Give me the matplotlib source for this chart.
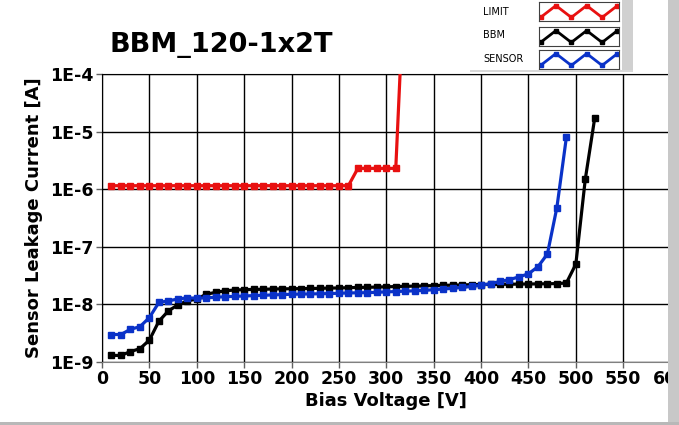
import numpy as np
import matplotlib
matplotlib.use("Agg")
import matplotlib.pyplot as plt
from matplotlib.patches import Rectangle

# ---- data ----
limit_v = [10, 20, 30, 40, 50, 60, 70, 80, 90, 100, 110, 120, 130, 140, 150, 160,
           170, 180, 190, 200, 210, 220, 230, 240, 250, 260, 270, 280, 290, 300, 310, 315]
limit_i = [1.15e-6] * 26 + [2.3e-6] * 5 + [1.5e-4]

bbm_v = list(range(10, 530, 10))
bbm_i = [1.3e-9, 1.3e-9, 1.52e-9, 1.7e-9, 2.4e-9, 5.1e-9, 7.7e-9, 9.8e-9, 1.15e-8, 1.24e-8,
         1.5e-8, 1.62e-8, 1.72e-8, 1.78e-8, 1.8e-8, 1.82e-8, 1.83e-8, 1.85e-8, 1.86e-8, 1.87e-8,
         1.88e-8, 1.89e-8, 1.9e-8, 1.92e-8, 1.93e-8, 1.95e-8, 1.97e-8, 1.98e-8, 2.0e-8, 2.02e-8,
         2.04e-8, 2.06e-8, 2.08e-8, 2.1e-8, 2.12e-8, 2.14e-8, 2.16e-8, 2.18e-8, 2.2e-8, 2.21e-8,
         2.22e-8, 2.23e-8, 2.24e-8, 2.25e-8, 2.26e-8, 2.27e-8, 2.28e-8, 2.3e-8, 2.35e-8, 5.0e-8,
         1.5e-6, 1.75e-5]

sensor_v = list(range(10, 500, 10))
sensor_i = [3.0e-9, 3.0e-9, 3.7e-9, 4.1e-9, 5.9e-9, 1.08e-8, 1.15e-8, 1.24e-8, 1.3e-8, 1.28e-8,
            1.3e-8, 1.33e-8, 1.36e-8, 1.38e-8, 1.4e-8, 1.42e-8, 1.44e-8, 1.46e-8, 1.48e-8, 1.5e-8,
            1.51e-8, 1.52e-8, 1.53e-8, 1.54e-8, 1.56e-8, 1.58e-8, 1.59e-8, 1.6e-8, 1.62e-8, 1.65e-8,
            1.67e-8, 1.7e-8, 1.72e-8, 1.75e-8, 1.8e-8, 1.85e-8, 1.9e-8, 1.97e-8, 2.05e-8, 2.15e-8,
            2.3e-8, 2.5e-8, 2.7e-8, 3.0e-8, 3.4e-8, 4.5e-8, 7.5e-8, 4.8e-7, 7.9e-6]

series_names = ["LIMIT", "BBM", "SENSOR"]
series_colors = ["#e81010", "#000000", "#0a32c8"]
x_ticks = list(range(0, 650, 50))
y_ticks = [1e-9, 1e-8, 1e-7, 1e-6, 1e-5, 1e-4]
y_ticklabels = ["1E-9", "1E-8", "1E-7", "1E-6", "1E-5", "1E-4"]
legend_zigzag = [0, 1, 0, 1, 0, 1]

W, H = 679, 425
fig = plt.figure(figsize=(W / 100, H / 100), dpi=100)
fig.patch.set_facecolor("white")

ax = fig.add_axes([102 / W, 1 - 362 / H, (670.6 - 102) / W, (362 - 74) / H])
for xs, ys, c in zip([limit_v, bbm_v, sensor_v], [limit_i, bbm_i, sensor_i], series_colors):
    ax.plot(xs, ys, color=c, lw=2.3, marker="s", ms=4.4, mec=c, mfc=c, zorder=3)

ax.set_yscale("log")
ax.set_xlim(0, 600)
ax.set_ylim(1e-9, 1e-4)
ax.set_xticks(x_ticks)
ax.set_yticks(y_ticks)
ax.set_yticklabels(y_ticklabels)
ax.yaxis.set_minor_locator(matplotlib.ticker.NullLocator())
ax.grid(True, color="black", lw=1.0)
ax.tick_params(axis="both", length=4, width=1, color="#606060", labelsize=12.5, pad=2)
for lab in ax.get_xticklabels() + ax.get_yticklabels():
    lab.set_fontweight("bold")
for s in ax.spines.values():
    s.set_color("black")
ax.spines["bottom"].set_color("#808080")
ax.set_xlabel("Bias Voltage [V]", fontsize=13, fontweight="bold", labelpad=3)
ax.set_ylabel("Sensor Leakage Current [A]", fontsize=13, fontweight="bold", labelpad=5)

fig.text(221 / W, 1 - 45 / H, "BBM_120-1x2T", fontsize=19.5, fontweight="bold",
         ha="center", va="center")

# legend panel
fig.patches.append(Rectangle((622 / W, 1 - 72 / H), 11 / W, 72 / H, transform=fig.transFigure,
                             facecolor="#d0d0d0", edgecolor="none", zorder=5))
fig.patches.append(Rectangle((470 / W, 1 - 72 / H), 163 / W, 2 / H, transform=fig.transFigure,
                             facecolor="#d8d8d8", edgecolor="none", zorder=5))
box_tops = [2, 27, 50]
label_y = [12, 35, 59]
for name, c, top, ly in zip(series_names, series_colors, box_tops, label_y):
    fig.text(483 / W, 1 - ly / H, name, fontsize=7, ha="left", va="center")
    lax = fig.add_axes([539 / W, 1 - (top + 19) / H, 80 / W, 19 / H])
    lax.plot(range(len(legend_zigzag)), legend_zigzag, color=c, lw=2, marker="s", ms=3.5)
    lax.set_xlim(-0.1, 5.1)
    lax.set_ylim(-0.3, 1.3)
    lax.set_xticks([])
    lax.set_yticks([])
    for s in lax.spines.values():
        s.set_color("#404040")
        s.set_linewidth(0.8)

# right gray bar and bottom border
fig.patches.append(Rectangle((668 / W, 3 / H), 11 / W, 1 - 3 / H, transform=fig.transFigure,
                             facecolor="#c8c8c8", edgecolor="none", zorder=10))
fig.patches.append(Rectangle((0, 0), 1, 3 / H, transform=fig.transFigure,
                             facecolor="#b8b8b8", edgecolor="none", zorder=10))

fig.savefig("out.png", dpi=100)
